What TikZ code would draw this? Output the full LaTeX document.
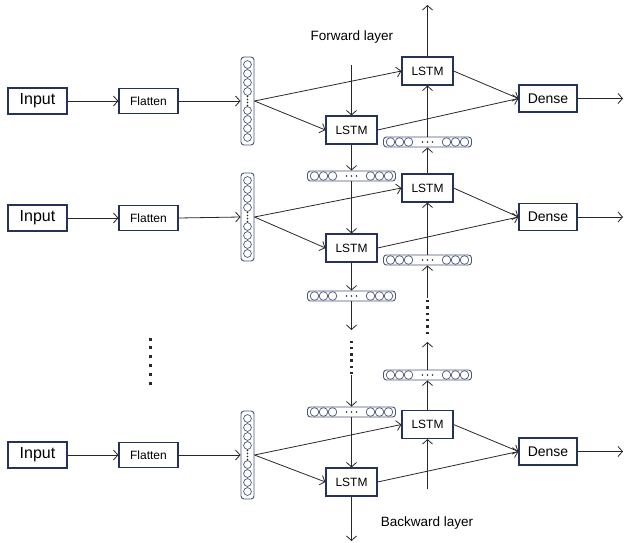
\documentclass[tikz,border=0pt]{standalone}
\usepackage{fontspec}
\setmainfont{Liberation Sans}
\usetikzlibrary{arrows.meta}
\definecolor{boxline}{RGB}{37,52,86}
\definecolor{vecline}{RGB}{70,86,120}
\definecolor{wirecol}{RGB}{40,40,40}

% horizontal unit vector: frame node plus 3 + 3 circles and an ellipsis
\newcommand\hvecat[3]{%
  \node[hvecbox] (#1) at (#2,#3) {};
  \foreach \d in {-37,-28,-19,19,28,37}
    \draw[unit] ({#2+\d},#3) circle[radius=4.3];
  \foreach \d in {-5,0,5}
    \fill[wirecol] ({#2+\d},#3) circle[radius=0.9];
}
% vertical unit vector: frame node plus 4 + 4 circles and vertical dots
\newcommand\vvecat[3]{%
  \node[vvecbox] (#1) at (#2,#3) {};
  \foreach \d in {-36.5,-27.5,-18.5,-9.5,9.5,18.5,27.5,36.5}
    \draw[unit] (#2,{#3+\d}) circle[radius=3.9];
  \foreach \d in {-4.5,-1.5,1.5,4.5}
    \fill[wirecol] (#2,{#3+\d}) circle[radius=0.8];
}
% column of square dots
\newcommand\dotcol[4]{%
  \foreach \k in {0,...,5}
    \fill[wirecol] ({#1-#4/2},{#2+\k*#3-#4/2}) rectangle +(#4,#4);
}

\begin{document}
\begin{tikzpicture}[x=1pt,y=-1pt,
  box/.style={draw=boxline,line width=1.1pt,fill=white,inner sep=0pt},
  inbox/.style={box,minimum width=59pt,minimum height=26pt,font=\fontsize{16}{16}\selectfont},
  flatbox/.style={box,minimum width=59pt,minimum height=25pt,font=\fontsize{12}{12}\selectfont},
  lstmbox/.style={box,minimum width=51pt,minimum height=28pt,font=\fontsize{12}{12}\selectfont},
  densebox/.style={box,minimum width=58pt,minimum height=27pt,font=\fontsize{14}{14}\selectfont},
  hvecbox/.style={draw=vecline,line width=0.9pt,rounded corners=3pt,minimum width=88pt,minimum height=10pt,inner sep=0pt},
  vvecbox/.style={draw=vecline,line width=0.9pt,rounded corners=3pt,minimum width=13pt,minimum height=88pt,inner sep=0pt},
  unit/.style={draw=vecline,line width=0.7pt},
  wire/.style={draw=wirecol,line width=0.8pt,-{Straight Barb[length=4.5pt,width=10pt]}},
  lbl/.style={font=\fontsize{13.5}{13.5}\selectfont}
]
\useasboundingbox (0,0) rectangle (627,543);

% ---- first time step ----
\node[inbox] (in1) at (37.5,101) {Input};
\node[flatbox] (fl1) at (148.5,101) {Flatten};
\vvecat{v1}{247.5}{101}
\node[lstmbox] (u1) at (427.5,71) {LSTM};
\node[lstmbox] (l1) at (351.5,130) {LSTM};
\node[densebox] (d1) at (548,98.5) {Dense};
\hvecat{r1}{427.5}{142}
\hvecat{f1}{351.5}{176}

% ---- second time step ----
\node[inbox] (in2) at (37.5,218) {Input};
\node[flatbox] (fl2) at (148.5,218) {Flatten};
\vvecat{v2}{247.5}{217}
\node[lstmbox] (u2) at (427.5,188) {LSTM};
\node[lstmbox] (l2) at (351.5,248) {LSTM};
\node[densebox] (d2) at (548,217) {Dense};
\hvecat{r2}{427.5}{260}
\hvecat{f2}{351.5}{296}

% ---- last time step ----
\node[inbox] (in3) at (37.5,455) {Input};
\node[flatbox] (fl3) at (148.5,455) {Flatten};
\vvecat{v3}{247.5}{455}
\node[lstmbox] (u3) at (427.5,424.5) {LSTM};
\node[lstmbox] (l3) at (351.5,482) {LSTM};
\node[densebox] (d3) at (548,451.5) {Dense};
\hvecat{r3}{427.5}{375}
\hvecat{f3}{351.5}{412}

% labels
\node[lbl] (fwl) at (352,37) {Forward layer};
\node[lbl] (bwl) at (427,523) {Backward layer};

% free ends
\coordinate (top) at (427.5,5);
\coordinate (fwin) at (351.5,65);
\coordinate (fgap1) at (351.5,330);
\coordinate (fgap2) at (351.5,375);
\coordinate (bottom) at (351.5,541);
\coordinate (bwin) at (427.5,489);
\coordinate (bgap1) at (427.5,342);
\coordinate (bgap2) at (427.5,298);
\coordinate (o1) at (623,98.5);
\coordinate (o2) at (623,217);
\coordinate (o3) at (623,451.5);

% per-step feed forward
\foreach \i in {1,2,3}{
  \draw[wire] (in\i.east) -- (fl\i.west);
  \draw[wire] (fl\i.east) -- (v\i.west);
  \draw[wire] (v\i.east) -- (u\i.west);
  \draw[wire] (v\i.east) -- (l\i.west);
  \draw[wire] (u\i.east) -- (d\i.west);
  \draw[wire] (l\i.east) -- (d\i.west);
  \draw[wire] (d\i.east) -- (o\i);
}

% forward chain (downwards)
\draw[wire] (fwin) -- (l1.north);
\draw[wire] (l1.south) -- (f1.north);
\draw[wire] (f1.south) -- (l2.north);
\draw[wire] (l2.south) -- (f2.north);
\draw[wire] (f2.south) -- (fgap1);
\dotcol{351.5}{342}{6.2}{2.4}
\draw[wire] (fgap2) -- (f3.north);
\draw[wire] (f3.south) -- (l3.north);
\draw[wire] (l3.south) -- (bottom);

% backward chain (upwards)
\draw[wire] (bwin) -- (u3.south);
\draw[wire] (u3.north) -- (r3.south);
\draw[wire] (r3.north) -- (bgap1);
\dotcol{427.5}{301}{6.4}{2.4}
\draw[wire] (bgap2) -- (r2.south);
\draw[wire] (r2.north) -- (u2.south);
\draw[wire] (u2.north) -- (r1.south);
\draw[wire] (r1.north) -- (u1.south);
\draw[wire] (u1.north) -- (top);

% skipped time steps
\dotcol{150}{339}{8.8}{3}
\end{tikzpicture}
\end{document}
